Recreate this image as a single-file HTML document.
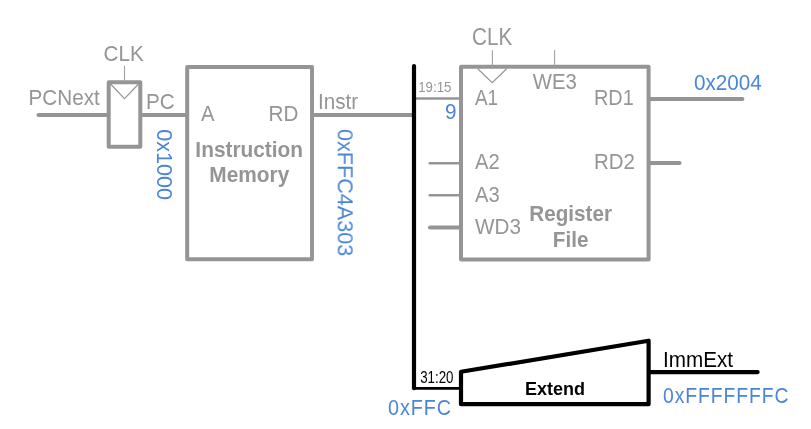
<!DOCTYPE html>
<html>
<head>
<meta charset="utf-8">
<title>Datapath</title>
<style>
html,body{margin:0;padding:0;background:#fff;}
body{width:811px;height:429px;overflow:hidden;}
svg{display:block;}
text{font-family:"Liberation Sans",Arial,sans-serif;}
.g{fill:#959595;}
.b{fill:#4a86d6;}
.k{fill:#000000;}
.bold{font-weight:bold;}
</style>
</head>
<body>
<svg width="811" height="429" viewBox="0 0 811 429">
<rect width="811" height="429" fill="#fff"/>
<g fill="none" stroke="#959595" stroke-width="4" stroke-linecap="round" stroke-linejoin="round">
  <!-- PCNext wire -->
  <path d="M38.5 114.9H108"/>
  <!-- PC register -->
  <rect x="108.7" y="82.3" width="31.6" height="64.5"/>
  <path d="M124.5 66V82" stroke-width="1.1" stroke="#a0a0a0"/>
  <path d="M110.5 84L124.5 98.6L138.5 84" stroke-width="1.2" stroke-linejoin="miter"/>
  <!-- PC wire -->
  <path d="M141 114.9H186" stroke-linecap="butt"/>
  <!-- Instruction memory -->
  <rect x="187.2" y="66.9" width="124.8" height="192.4"/>
  <!-- Instr wire -->
  <path d="M313 114.9H413" stroke-linecap="butt"/>
  <!-- Register file -->
  <rect x="461" y="66.8" width="187.6" height="192.8"/>
  <path d="M492.4 50.5V67" stroke-width="1.1" stroke="#a0a0a0"/>
  <path d="M554.6 50.5V67" stroke-width="1.1" stroke="#a0a0a0"/>
  <path d="M478 69L492.2 82.6L506.4 69" stroke-width="1.2" stroke-linejoin="miter"/>
  <path d="M415 98.5H460" stroke-width="2.4" stroke-linecap="butt"/>
  <path d="M429.8 163.3H460" stroke-width="2.6"/>
  <path d="M429.8 195.3H460" stroke-width="2.6"/>
  <path d="M430 227.5H460"/>
  <path d="M650 98.9H742.4"/>
  <path d="M650 163H679.5"/>
</g>
<g fill="none" stroke="#000000" stroke-width="4.4" stroke-linecap="round" stroke-linejoin="round">
  <path d="M414 66V388.2" stroke-width="4.2"/>
  <path d="M414 388.4H460" stroke-width="2.6"/>
  <path d="M461 371.8L648.6 340.7V404.2H461Z" stroke-width="4.2"/>
  <path d="M650 372.1H757.6" stroke-width="4.2"/>
</g>
<g opacity="0.999">
  <text class="g" transform="translate(28.5 105) scale(0.94 1)" font-size="22">PCNext</text>
  <text class="g" transform="translate(103.5 61) scale(0.94 1)" font-size="22">CLK</text>
  <text class="g" transform="translate(146 108.7) scale(0.94 1)" font-size="22">PC</text>
  <text class="g" transform="translate(201 120.5) scale(0.92 1)" font-size="22">A</text>
  <text class="g" transform="translate(268.5 120.5) scale(0.94 1)" font-size="22">RD</text>
  <text class="g" transform="translate(318 109.2) scale(0.94 1)" font-size="22">Instr</text>
  <text class="g" transform="translate(472 45) scale(0.94 1.05)" font-size="22">CLK</text>
  <text class="g" transform="translate(475 105) scale(0.86 1)" font-size="22">A1</text>
  <text class="g" transform="translate(532.8 88.7) scale(0.925 1)" font-size="22">WE3</text>
  <text class="g" transform="translate(594 104.8) scale(0.905 1)" font-size="22">RD1</text>
  <text class="g" transform="translate(594 168.5) scale(0.93 1)" font-size="22">RD2</text>
  <text class="g" transform="translate(475 169) scale(0.92 1)" font-size="22">A2</text>
  <text class="g" transform="translate(475 202) scale(0.92 1)" font-size="22">A3</text>
  <text class="g" transform="translate(475 234) scale(0.94 1)" font-size="22">WD3</text>
  <text class="g bold" transform="translate(249.2 157) scale(0.948 1)" font-size="22" text-anchor="middle">Instruction</text>
  <text class="g bold" transform="translate(249.3 182) scale(0.948 1)" font-size="22" text-anchor="middle">Memory</text>
  <text class="g bold" transform="translate(570.6 221) scale(0.94 1)" font-size="22" text-anchor="middle">Register</text>
  <text class="g bold" transform="translate(570.6 247) scale(0.94 1)" font-size="22" text-anchor="middle">File</text>
  <text class="k" transform="translate(663 367.3) scale(0.94 1)" font-size="22">ImmExt</text>
  <text class="b" transform="translate(694 89.5) scale(0.94 1)" font-size="22">0x2004</text>
  <text class="b" transform="translate(445 119) scale(0.94 1)" font-size="22">9</text>
  <text class="b" transform="translate(388 415) scale(0.9 1)" font-size="22" letter-spacing="1.0">0xFFC</text>
  <text class="b" transform="translate(663 403.1) scale(0.88 1)" font-size="22" letter-spacing="1.05">0xFFFFFFFC</text>
  <text class="b" transform="translate(156.7 129.2) rotate(90) scale(0.983 1)" font-size="22">0x1000</text>
  <text class="b" transform="translate(337.7 129) rotate(90) scale(0.983 1)" font-size="22">0xFFC4A303</text>
  <text class="k bold" transform="translate(555 395) scale(0.95 1)" font-size="19" text-anchor="middle">Extend</text>
  <text class="g" transform="translate(418.2 91.8) scale(0.95 1)" font-size="14">19:15</text>
  <text class="k" transform="translate(420.2 382.6) scale(0.98 1.15)" font-size="13.6">31:20</text>
</g>
</svg>
</body>
</html>
